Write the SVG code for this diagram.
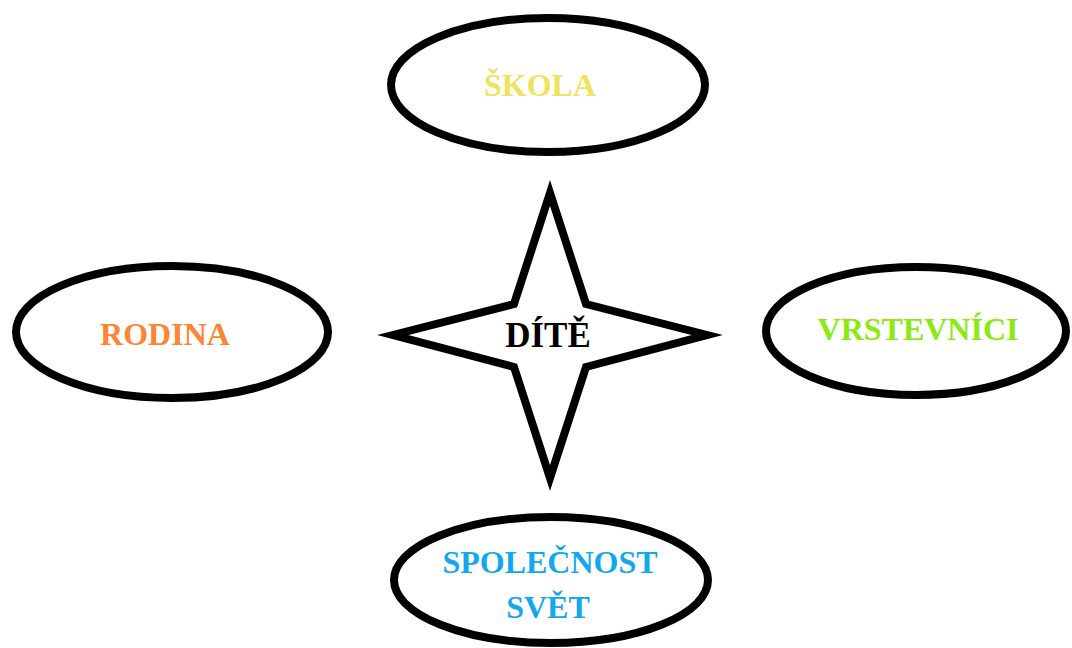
<svg xmlns="http://www.w3.org/2000/svg" width="1072" height="648" viewBox="0 0 1072 648">
<style>
.shape{fill:#fff;stroke:#000;stroke-width:8;stroke-miterlimit:10}
.lbl{font-family:"Liberation Serif","Times New Roman",serif;font-weight:bold;font-size:32px;text-anchor:middle}
</style>
<rect width="1072" height="648" fill="#fff"/>
<g id="connectors"></g>
<g id="skola">
<ellipse class="shape" cx="548" cy="85" rx="157" ry="67"/>
<text class="lbl" x="540" y="96" fill="#EFE35C">ŠKOLA</text>
</g>
<g id="rodina">
<ellipse class="shape" cx="172" cy="332" rx="156" ry="66"/>
<text class="lbl" x="165" y="345" fill="#FF8433">RODINA</text>
</g>
<g id="vrstevnici">
<ellipse class="shape" cx="916" cy="331" rx="150" ry="64"/>
<text class="lbl" x="918" y="340" fill="#8AEA12">VRSTEVNÍCI</text>
</g>
<g id="spolecnost">
<ellipse class="shape" cx="551" cy="580" rx="157" ry="63"/>
<text class="lbl" x="550" y="573" fill="#12A8EE">SPOLEČNOST</text>
<text class="lbl" x="548" y="618" fill="#12A8EE">SVĚT</text>
</g>
<g id="dite">
<path class="shape" d="M550,193 L514,304 L393,335 L514,367 L550,478 L586,367 L707,335 L586,304 Z"/>
<text class="lbl" x="548" y="347" fill="#000" style="font-size:35px">DÍTĚ</text>
</g>
</svg>
